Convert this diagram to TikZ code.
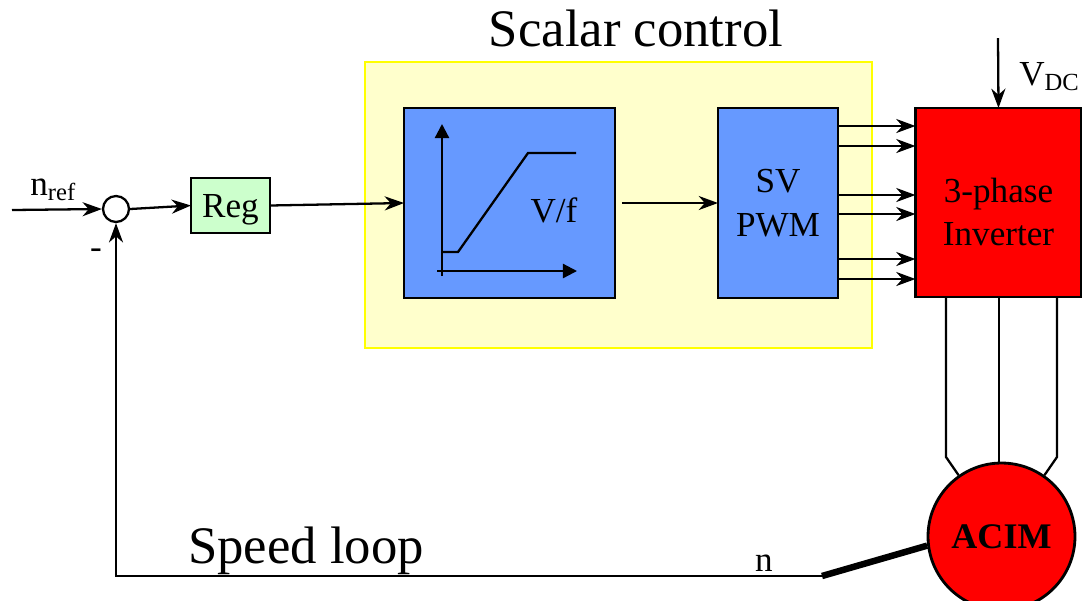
\documentclass[tikz,border=0pt]{standalone}
\usepackage{fontspec}
\setmainfont{Liberation Serif}
\usetikzlibrary{arrows.meta}
\definecolor{paleyellow}{HTML}{FFFFCC}
\definecolor{brightyellow}{HTML}{FFFF00}
\definecolor{blockblue}{HTML}{6699FF}
\definecolor{palegreen}{HTML}{CCFFCC}
\definecolor{pure red}{HTML}{FF0000}
\begin{document}
\begin{tikzpicture}[x=0.02cm,y=-0.02cm,
  conn/.style={line width=1.3pt},
  arr/.style={conn,-{Stealth[length=11pt,width=8pt,inset=3.5pt]}},
  axisarr/.style={conn,-{Triangle[length=8pt,width=8pt]}},
  blk/.style={draw=black,line width=1.6pt,inner sep=0pt,outer sep=0pt},
  lbl/.style={font=\fontsize{20}{25}\selectfont,inner sep=0pt},
  big/.style={font=\fontsize{30}{36}\selectfont,inner sep=0pt}]
\useasboundingbox (0,0) rectangle (1082,600);

% scalar-control region
\node[draw=brightyellow,fill=paleyellow,line width=1.3pt,inner sep=0pt,
      minimum width=10.14cm,minimum height=5.72cm] (scalar) at (618.5,205) {};
\node[big,anchor=base] (title) at (636,46) {Scalar control};

% blocks
\node[blk,fill=palegreen,minimum width=1.58cm,minimum height=1.1cm,lbl,text depth=0pt] (reg) at (230.5,205.5) {Reg};
\node[blk,fill=blockblue,minimum width=4.22cm,minimum height=3.8cm] (vf) at (509.5,203) {};
\node[blk,fill=blockblue,minimum width=2.4cm,minimum height=3.8cm,lbl,align=center] (sv) at (778,203) {SV\\PWM};
\node[blk,fill=pure red,minimum width=3.32cm,minimum height=3.78cm,
      label={[lbl,align=center,yshift=-0.19cm]center:{3-phase\\Inverter}}] (inv) at (998.5,202.5) {};
\node[circle,draw=black,fill=pure red,line width=1.6pt,inner sep=0pt,minimum size=2.94cm,
      font=\bfseries\fontsize{20.5}{24}\selectfont] (acim) at (1001.5,536.5) {ACIM};
\node[circle,draw=black,line width=1.3pt,inner sep=0pt,minimum size=0.52cm] (sum) at (116,209) {};

% V/f characteristic inside the block
\draw[axisarr] (442,276) -- (442,124);
\draw[axisarr] (437,271) -- (577,271);
\draw[conn] (443,252) -- (458,252) -- (528,153) -- (576,153);
\node[lbl,anchor=base] (vflabel) at (554,222) {V/f};

% labels
\node[lbl,anchor=base west] (nref) at (30,195) {n\textsubscript{ref}};
\node[lbl] (minus) at (96,254) {-};
\node[lbl,anchor=base west] (vdc) at (1019,85) {V\textsubscript{DC}};
\node[big,anchor=base] (loop) at (306,563) {Speed loop};
\node[lbl,anchor=base] (nlabel) at (764,571) {n};

% connectors
\coordinate (nin) at (12,210);
\coordinate (vdctop) at (998,38);
\coordinate (shaft) at (822,576);
\draw[arr] (nin) -- (sum.west);
\draw[arr] (sum.east) -- (reg.west);
\draw[arr] (reg.east) -- (vf.west);
\draw[arr,shorten <=0.14cm] (vf.east) -- (sv.west);
\foreach \yy in {126,146,195,214,259,279}
  \draw[arr] (sv.east |- 0,\yy) -- (inv.west |- 0,\yy);
\draw[arr] (vdctop) -- (inv.north);
\draw[conn] (inv.south -| 946,0) -- (946,457) -- (acim.125);
\draw[conn] (inv.south -| 999,0) -- (999,463.5);
\draw[conn] (inv.south -| 1057,0) -- (1057,457) -- (acim.55);
\draw[line width=3.7pt] (shaft) -- (acim.187);
\draw[arr] (shaft) -| (sum.south);
\end{tikzpicture}
\end{document}
